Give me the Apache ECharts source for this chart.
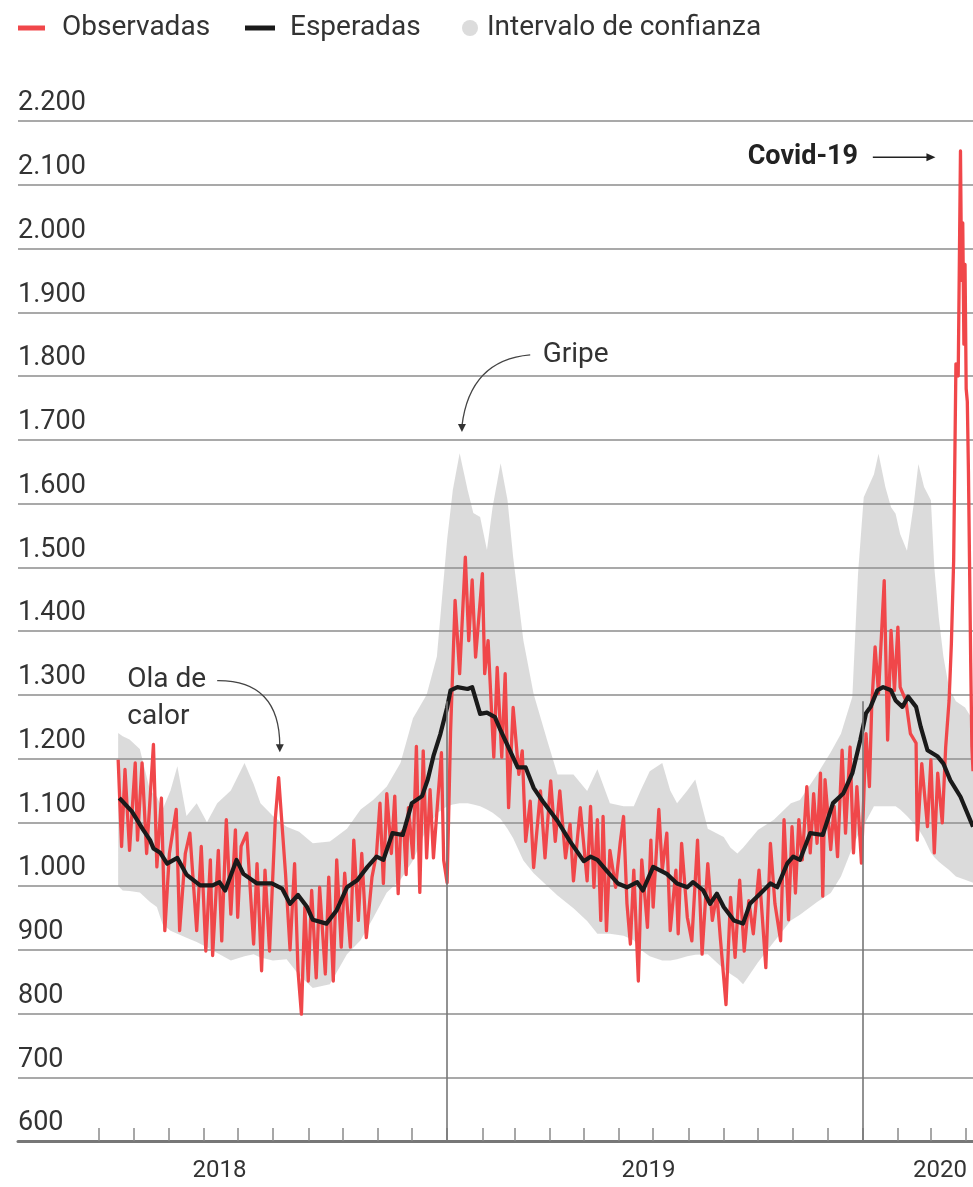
<!DOCTYPE html>
<html>
<head>
<meta charset="utf-8">
<script src="https://cdn.jsdelivr.net/npm/echarts@6.0.0/dist/echarts.min.js"></script>
<style>
html,body{margin:0;padding:0;background:#fff;}
#chart{width:973px;height:1187px;}
</style>
</head>
<body>
<div id="chart"></div>
<script>
// Day numbers: days since 2018-01-01 (0 = 1 Jan 2018, 365 = 1 Jan 2019, 730 = 1 Jan 2020)
const seriesNames = ['Observadas', 'Esperadas', 'Intervalo de confianza'];

const observadas = [
[76,1198],[79,1062],[82,1183],[86,1056],[91,1193],[93,1072],[97,1193],[101,1051],[107,1222],[110,1030],
[114,1138],[117,930],[121,1051],[127,1120],[130,930],[135,1051],[139,1083],[145,930],[149,1062],[153,898],
[157,1041],[159,891],[164,1056],[167,914],[171,1104],[175,956],[179,1088],[181,951],[184,1062],[189,1083],
[195,909],[198,1035],[202,867],[205,1025],[209,898],[214,1104],[217,1170],[223,1020],[227,900],[231,1035],
[234,867],[237,799],[240,967],[243,851],[246,993],[250,856],[253,998],[258,862],[261,1014],[265,851],
[268,1041],[272,904],[275,1020],[280,904],[283,1072],[287,946],[290,1051],[294,919],[299,1014],[303,1051],
[306,1130],[309,1004],[312,1145],[316,1051],[319,1141],[322,988],[324,1081],[327,1088],[329,1018],[331,1123],
[335,1044],[338,1219],[341,990],[344,1212],[347,1044],[350,1151],[353,1044],[357,1140],[360,1209],[362,1040],
[365,1005],[368,1240],[372,1448],[376,1333],[381,1516],[384,1385],[387,1480],[390,1359],[396,1490],[398,1333],
[401,1385],[406,1202],[409,1343],[413,1202],[416,1333],[419,1123],[423,1280],[428,1175],[431,1212],[434,1070],
[438,1133],[441,1029],[447,1149],[451,1044],[456,1165],[460,1070],[464,1149],[469,1044],[473,1097],[476,1008],
[482,1123],[488,1008],[491,1125],[494,998],[497,1104],[500,946],[502,1109],[505,930],[508,1056],[513,998],
[517,1067],[520,1109],[523,972],[526,909],[529,1025],[533,851],[536,1041],[541,935],[544,1072],[546,967],
[551,1120],[554,1025],[558,1083],[561,930],[566,1025],[568,925],[571,1067],[576,951],[580,914],[585,1072],
[589,893],[594,1035],[598,946],[602,988],[605,919],[610,814],[614,982],[618,888],[622,1009],[626,898],
[630,977],[634,925],[639,1025],[645,872],[649,1067],[653,972],[658,914],[661,1104],[665,947],[668,1093],
[671,989],[674,1104],[677,1041],[681,1156],[684,1052],[687,1145],[690,1067],[693,1177],[695,984],[697,1167],
[702,1057],[705,1125],[708,1046],[712,1213],[715,1083],[719,1218],[722,1052],[725,1156],[729,1036],[733,1239],
[736,1156],[738,1281],[741,1375],[744,1302],[749,1479],[752,1229],[755,1401],[758,1307],[761,1406],[763,1312],
[768,1291],[772,1239],[777,1224],[778,1072],[782,1192],[787,1093],[790,1198],[793,1052],[796,1177],[800,1099],
[803,1218],[806,1291],[808,1380],[810,1510],[812,1819],[814,1800],[816,2153],[817,1950],[818,2040],[819,1850],
[820,1975],[821,1780],[822,1760],[823,1650],[824,1500],[825,1350],[826,1220],[827,1180]
];

const esperadas = [
[77,1138],[88,1117],[98,1088],[104,1072],[107,1059],[113,1052],[119,1035],[128,1044],[136,1018],[148,1001],
[159,1001],[165,1006],[170,993],[180,1041],[186,1019],[198,1004],[211,1004],[220,996],[227,972],[234,986],
[242,967],[247,947],[259,941],[268,962],[277,998],[286,1009],[295,1030],[303,1046],[309,1041],[317,1083],
[326,1080],[334,1130],[343,1141],[348,1167],[353,1204],[359,1238],[365,1280],[368,1307],[374,1312],[383,1309],
[387,1312],[394,1270],[400,1272],[407,1265],[412,1244],[419,1217],[427,1186],[434,1186],[441,1154],[449,1133],
[462,1102],[473,1070],[485,1039],[491,1046],[497,1041],[506,1022],[515,1004],[523,998],[532,1006],[537,993],
[546,1030],[558,1019],[567,1004],[576,998],[581,1006],[590,993],[596,972],[602,988],[608,967],[617,946],
[625,941],[631,972],[640,988],[649,1004],[655,998],[660,1019],[664,1036],[669,1046],[675,1041],[684,1083],
[695,1080],[704,1130],[713,1145],[721,1177],[728,1229],[733,1271],[737,1281],[743,1307],[748,1312],[755,1307],
[759,1291],[765,1281],[770,1297],[777,1281],[781,1250],[787,1213],[796,1203],[801,1192],[807,1166],[816,1140],
[827,1093]
];

const icDias = [76,80,86,95,104,110,115,122,128,136,145,154,163,175,187,195,201,212,224,235,247,262,277,289,300,312,324,335,347,356,
365,370,376,383,388,394,400,405,412,418,423,432,441,453,462,476,488,497,508,520,529,535,543,554,561,567,576,583,594,608,
614,620,625,638,652,667,675,690,702,711,721,726,731,740,744,750,755,759,763,769,775,779,784,790,793,797,801,806,812,820,827];
const icInf = [1000,993,992,990,975,967,940,930,925,919,912,904,895,883,890,893,888,883,885,860,840,846,893,915,950,990,1010,1040,1090,1114,
1125,1128,1130,1130,1128,1125,1120,1115,1105,1090,1075,1040,1020,1000,985,965,945,925,925,922,915,900,890,883,883,885,890,892,893,870,
862,855,846,880,912,946,955,975,989,1015,1060,1080,1095,1125,1125,1125,1125,1125,1120,1110,1098,1090,1075,1052,1045,1038,1032,1025,1015,1010,1005];
const icSup = [1240,1235,1230,1215,1150,1140,1120,1150,1188,1110,1130,1100,1130,1150,1193,1160,1130,1110,1093,1085,1067,1070,1090,1120,1135,1156,1193,1263,1300,1360,
1543,1621,1679,1621,1585,1579,1527,1595,1663,1606,1516,1385,1301,1228,1175,1175,1149,1183,1130,1125,1125,1150,1180,1193,1150,1130,1150,1167,1090,1077,
1060,1051,1060,1088,1104,1130,1135,1175,1210,1239,1297,1490,1610,1646,1678,1626,1594,1584,1552,1526,1600,1662,1626,1605,1500,1420,1360,1310,1290,1280,1260];

// Monthly ticks (first day of each month, Mar 2018 - Apr 2020) and year labels
const monthTicks = [59,90,120,151,181,212,243,273,304,334,365,396,424,455,485,516,546,577,608,638,669,699,730,761,790,821];
const yearLines = [365, 730];
const yearLabels = ['2018', '2019', '2020'];
const yearLabelPos = [165, 542, 798];
const yTicks = [600,700,800,900,1000,1100,1200,1300,1400,1500,1600,1700,1800,1900,2000,2100,2200];

const RED = '#f0474a';
const BLACK = '#1a1a1a';
const GRAY = '#dcdcdc';
const BAND = 'rgba(150,150,150,0.34)';
const TXT = '#333333';
const FONT = 'Roboto, "Liberation Sans", sans-serif';

function fmtThousands(v) {
  if (v >= 1000) {
    return Math.floor(v / 1000) + '.' + String(v % 1000).padStart(3, '0');
  }
  return String(v);
}

const bandData = icDias.map((d, i) => [d, icInf[i], icSup[i]]);

const chart = echarts.init(document.getElementById('chart'), null, {renderer: 'canvas'});

const option = {
  animation: false,
  backgroundColor: '#ffffff',
  grid: {left: 18, right: 0, top: 121, bottom: 46, containLabel: false},
  xAxis: {
    type: 'value',
    min: -12,
    max: 827,
    splitLine: {show: false},
    axisLine: {show: true, lineStyle: {color: '#777777', width: 3}},
    axisTick: {show: true, inside: true, length: 13, customValues: monthTicks, lineStyle: {color: '#8a8a8a', width: 1.5}},
    axisLabel: {
      show: true, customValues: yearLabelPos, margin: 18,
      fontFamily: FONT, fontSize: 24, color: TXT,
      formatter: function (v) { const i = yearLabelPos.indexOf(v); return i >= 0 ? yearLabels[i] : ''; }
    }
  },
  yAxis: {
    type: 'value',
    min: yTicks[0],
    max: yTicks[yTicks.length - 1],
    interval: 100,
    axisLine: {show: false},
    axisTick: {show: false},
    splitLine: {show: true, lineStyle: {color: '#8c8c8c', width: 1.6}},
    axisLabel: {
      inside: true, margin: 0, verticalAlign: 'bottom', align: 'left',
      padding: [0, 0, 4, 0],
      fontFamily: FONT, fontSize: 27, color: TXT,
      formatter: fmtThousands
    }
  },
  series: [
    {
      name: seriesNames[2], type: 'custom', silent: true, z: 1,
      data: bandData,
      encode: {x: 0, y: [1, 2]},
      renderItem: function (params, api) {
        if (params.dataIndex !== 0) return null;
        const top = [], bot = [];
        for (let i = 0; i < bandData.length; i++) {
          top.push(api.coord([bandData[i][0], bandData[i][2]]));
          bot.push(api.coord([bandData[i][0], bandData[i][1]]));
        }
        return {
          type: 'polygon',
          shape: {points: top.concat(bot.reverse())},
          style: {fill: BAND, stroke: null}
        };
      }
    },
    {
      name: 'yearLines', type: 'line', data: [], z: 2, silent: true,
      markLine: {
        silent: true, symbol: 'none', label: {show: false},
        lineStyle: {color: '#777777', width: 1.6, type: 'solid'},
        data: yearLines.map(d => [{coord: [d, 600]}, {coord: [d, 1290]}])
      }
    },
    {
      name: seriesNames[0], type: 'line', symbol: 'none', z: 3,
      lineStyle: {color: RED, width: 3.3, join: 'round'},
      data: observadas
    },
    {
      name: seriesNames[1], type: 'line', symbol: 'none', z: 4,
      lineStyle: {color: BLACK, width: 4.2, join: 'round'},
      data: esperadas
    }
  ]
};

chart.setOption(option);

// Legend and annotations (placed via the chart's own coordinate conversion)
function px(d, v) { return chart.convertToPixel({gridIndex: 0}, [d, v]); }

const legendY = 28;
const g = [
  {type: 'rect', shape: {x: 18, y: legendY - 2.5, width: 27, height: 5}, style: {fill: RED}},
  {type: 'text', x: 62, y: legendY, style: {text: seriesNames[0], fontFamily: FONT, fontSize: 28, fill: TXT, verticalAlign: 'middle'}},
  {type: 'rect', shape: {x: 245, y: legendY - 2.5, width: 30, height: 5}, style: {fill: BLACK}},
  {type: 'text', x: 290, y: legendY, style: {text: seriesNames[1], fontFamily: FONT, fontSize: 28, fill: TXT, verticalAlign: 'middle'}},
  {type: 'circle', shape: {cx: 470, cy: legendY, r: 8}, style: {fill: GRAY}},
  {type: 'text', x: 487, y: legendY, style: {text: seriesNames[2], fontFamily: FONT, fontSize: 28, fill: TXT, verticalAlign: 'middle'}}
];

// Covid-19
const cT = px(726, 2143), cA0 = px(739, 2143), cA1 = px(794, 2143);
g.push({type: 'text', x: cT[0], y: cT[1], style: {text: 'Covid-19', fontFamily: FONT, fontWeight: 'bold', fontSize: 27, fill: '#222', align: 'right', verticalAlign: 'middle'}});
g.push({type: 'line', shape: {x1: cA0[0], y1: cA0[1], x2: cA1[0] - 6, y2: cA1[1]}, style: {stroke: '#222', lineWidth: 1.5}});
g.push({type: 'polygon', shape: {points: [[cA1[0] - 9, cA1[1] - 4], [cA1[0] - 9, cA1[1] + 4], [cA1[0], cA1[1]]]}, style: {fill: '#222'}});

// Gripe
const gT = px(449, 1833), gS = px(438, 1833), gC = px(385, 1825), gE = px(378, 1712);
g.push({type: 'text', x: gT[0], y: gT[1], style: {text: 'Gripe', fontFamily: FONT, fontSize: 28, fill: TXT, verticalAlign: 'middle'}});
g.push({type: 'bezierCurve', shape: {x1: gS[0], y1: gS[1], cpx1: gC[0], cpy1: gC[1], x2: gE[0], y2: gE[1] - 6}, style: {stroke: '#444', lineWidth: 1.3, fill: null}});
g.push({type: 'polygon', shape: {points: [[gE[0] - 4, gE[1] - 8], [gE[0] + 4, gE[1] - 8], [gE[0], gE[1]]]}, style: {fill: '#333'}});

// Ola de calor
const oT1 = px(84, 1323), oT2 = px(84, 1265), oS = px(163, 1322), oC = px(218, 1323), oE = px(218, 1210);
g.push({type: 'text', x: oT1[0], y: oT1[1], style: {text: 'Ola de', fontFamily: FONT, fontSize: 28, fill: TXT, verticalAlign: 'middle'}});
g.push({type: 'text', x: oT2[0], y: oT2[1], style: {text: 'calor', fontFamily: FONT, fontSize: 28, fill: TXT, verticalAlign: 'middle'}});
g.push({type: 'bezierCurve', shape: {x1: oS[0], y1: oS[1], cpx1: oC[0], cpy1: oC[1], x2: oE[0], y2: oE[1] - 6}, style: {stroke: '#444', lineWidth: 1.3, fill: null}});
g.push({type: 'polygon', shape: {points: [[oE[0] - 4, oE[1] - 8], [oE[0] + 4, oE[1] - 8], [oE[0], oE[1]]]}, style: {fill: '#333'}});

chart.setOption({graphic: g});
</script>
</body>
</html>
